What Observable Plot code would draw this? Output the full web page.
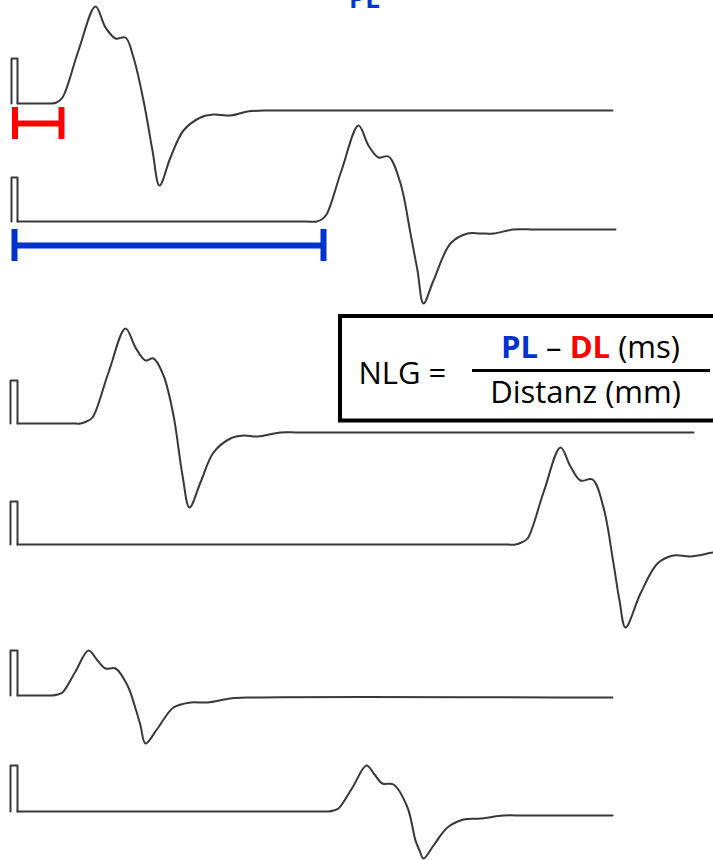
<!DOCTYPE html>
<html>
<head>
<meta charset="utf-8">
<script src="https://cdn.jsdelivr.net/npm/d3@7"></script>
<script src="https://cdn.jsdelivr.net/npm/@observablehq/plot@0.6"></script>
<style>
  html, body { margin: 0; padding: 0; background: #fff; }
  #chart svg { display: block; overflow: hidden; }
</style>
</head>
<body>
<div id="chart"></div>
<script>
// ---- Data (time in sample units, amplitude relative to each trace's baseline, positive up) ----
const traceLevel    = [-103, -221, -423, -544, -695, -811];
const artifactStart = [11, 11, 10, 10, 10, 10];
const artifactEnd   = [17, 17, 17, 17, 17, 17];
const artifactTop   = [45, 44, 43, 43, 45, 46];

const wave1T = [17, 27, 42, 50, 56, 62, 78, 95, 105, 115, 125, 133, 143, 152, 159, 170, 183, 200, 213, 230, 247, 267, 285, 612];
const wave1A = [0, 0, 0, 0, 1, 6, 53, 97, 76, 65, 66, 46, 3, -47, -82, -54, -27, -14, -11, -12, -8, -7, -7, -7];

const wave2T = [17, 27, 305, 316, 321, 326, 341, 358, 368, 378, 388, 400, 410, 417, 423, 433, 450, 467, 480, 493, 513, 535, 615];
const wave2A = [0, 0, 0, 0, 2, 7, 51, 96, 76, 64, 65, 38, -12, -49, -82, -59, -22, -12, -12, -12, -8, -8, -8];

const wave3T = [17, 27, 72, 80, 86, 92, 108, 125, 135, 145, 153, 163, 173, 182, 189, 200, 213, 230, 243, 257, 280, 300, 693];
const wave3A = [0, 0, 0, 0, 2, 6, 51, 95, 76, 63, 65, 48, 8, -52, -84, -59, -29, -15, -12, -13, -9, -9, -9];

const wave4T = [17, 27, 505, 515, 521, 527, 543, 560, 570, 580, 592, 603, 613, 619, 625, 640, 657, 673, 690, 713, 725];
const wave4A = [0, 0, 0, 0, 2, 6, 52, 97, 78, 64, 65, 37, -19, -56, -83, -49, -19, -11, -12, -8, -7];

const wave5T = [17, 27, 45, 52, 57, 62, 75, 88, 97, 105, 115, 127, 135, 140, 145, 157, 173, 190, 207, 230, 250, 612];
const wave5A = [0, 0, 0, 0, 1, 3, 24, 45, 35, 27, 27, 10, -13, -30, -48, -33, -12, -7, -7, -3, -2, -2];

const wave6T = [17, 27, 318, 328, 333, 338, 352, 366, 374, 382, 393, 407, 415, 419, 423, 433, 447, 463, 480, 503, 525, 612];
const wave6A = [0, 0, 0, 0, 1, 3, 24, 46, 37, 28, 27, 4, -29, -39, -47, -34, -16, -8, -7, -4, -4, -4];

const waveTimes = [wave1T, wave2T, wave3T, wave4T, wave5T, wave6T];
const waveAmps  = [wave1A, wave2A, wave3A, wave4A, wave5A, wave6A];

// Latency bars: DL (distal latency) on trace 0, PL (proximal latency) on trace 1
const latencyNames  = ["DL", "PL"];
const latencyTrace  = [0, 1];
const latencyStart  = [14.5, 14];
const latencyEnd    = [61, 323];
const latencyOffset = [-20, -24];
const latencyColors = ["#ff0000", "#0033cc"];

// Formula text
const formulaLeft = "NLG =";
const formulaNum  = "PL – DL (ms)";
const formulaDen  = "Distanz (mm)";
const topLabel    = "PL";

// ---- Build tables ----
const waveRows = waveTimes.flatMap((ts, i) =>
  ts.map((t, j) => ({trace: i, t, v: traceLevel[i] + waveAmps[i][j]})));

const artifactRows = traceLevel.flatMap((lvl, i) => [
  {trace: i, t: artifactStart[i], v: lvl},
  {trace: i, t: artifactStart[i], v: lvl + artifactTop[i]},
  {trace: i, t: artifactEnd[i],   v: lvl + artifactTop[i]},
  {trace: i, t: artifactEnd[i],   v: lvl}
]);

const bars = latencyNames.map((name, i) => ({
  name, start: latencyStart[i], end: latencyEnd[i],
  v: traceLevel[latencyTrace[i]] + latencyOffset[i], color: latencyColors[i]
}));
const caps = bars.flatMap(b => [{t: b.start, v: b.v, color: b.color}, {t: b.end, v: b.v, color: b.color}]);

const font = "'Open Sans', sans-serif";
const lineColor = "#383838";

const plot = Plot.plot({
  width: 713,
  height: 860,
  margin: 0,
  x: {domain: [0, 713], axis: null},
  y: {domain: [-860, 0], axis: null},
  marks: [
    Plot.line(artifactRows, {x: "t", y: "v", z: "trace", stroke: lineColor, strokeWidth: 2, curve: "linear"}),
    Plot.line(waveRows, {x: "t", y: "v", z: "trace", stroke: lineColor, strokeWidth: 2, curve: "catmull-rom"}),
    Plot.ruleY(bars, {y: "v", x1: "start", x2: "end", stroke: "color", strokeWidth: 6}),
    Plot.ruleX(caps, {x: "t", y1: d => d.v - 16, y2: d => d.v + 16, stroke: "color", strokeWidth: 6}),
    // formula box
    Plot.rect([0], {x1: 340, x2: 760, y1: -420.5, y2: -316, fill: "white", stroke: "black", strokeWidth: 4}),
    Plot.ruleY([0], {y: -370, x1: 472, x2: 710, stroke: "black", strokeWidth: 3}),
    Plot.text([formulaLeft], {x: 358, y: -383, text: d => d, textAnchor: "start", lineAnchor: "bottom",
      fontSize: 31, fontFamily: font, fill: "black"}),
    Plot.text([formulaNum], {x: 590, y: -357, text: d => d, textAnchor: "middle", lineAnchor: "bottom",
      fontSize: 31, fontFamily: font, fill: "black"}),
    Plot.text([formulaDen], {x: 585, y: -402, text: d => d, textAnchor: "middle", lineAnchor: "bottom",
      fontSize: 31, fontFamily: font, fill: "black"}),
    Plot.text([topLabel], {x: 364, y: -7, text: d => d, textAnchor: "middle", lineAnchor: "bottom",
      fontSize: 26, fontWeight: "bold", fontFamily: font, fill: latencyColors[1]})
  ]
});

document.getElementById("chart").appendChild(plot);

// Color the numerator parts (PL blue bold, DL red bold)
d3.select(plot).selectAll("text").each(function() {
  if (this.textContent === formulaNum) {
    const t = d3.select(this);
    t.text(null);
    t.append("tspan").attr("fill", latencyColors[1]).attr("font-weight", "bold").text("PL");
    t.append("tspan").text(" – ");
    t.append("tspan").attr("fill", latencyColors[0]).attr("font-weight", "bold").text("DL");
    t.append("tspan").text(" (ms)");
  }
});
</script>
</body>
</html>
